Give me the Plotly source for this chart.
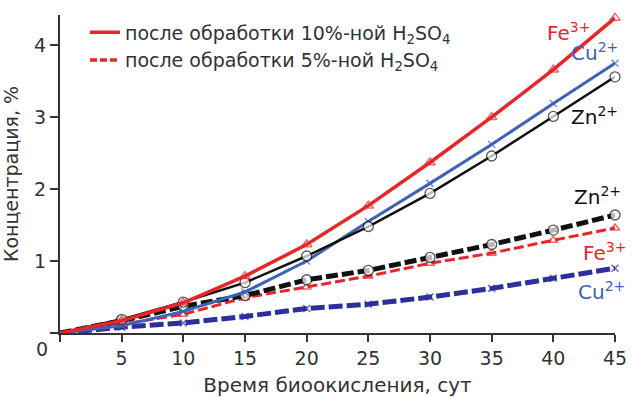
import plotly.graph_objects as go

days = [0, 5, 10, 15, 20, 25, 30, 35, 40, 45]

# Concentration, %, after treatment with 10% H2SO4
fe_10 = [0, 0.17, 0.42, 0.79, 1.23, 1.77, 2.37, 3.00, 3.66, 4.38]
cu_10 = [0, 0.10, 0.30, 0.57, 1.00, 1.55, 2.08, 2.62, 3.19, 3.75]
zn_10 = [0, 0.19, 0.43, 0.70, 1.07, 1.48, 1.94, 2.46, 3.01, 3.56]

# Concentration, %, after treatment with 5% H2SO4
zn_5 = [0, 0.17, 0.37, 0.52, 0.74, 0.87, 1.05, 1.23, 1.43, 1.64]
fe_5 = [0, 0.12, 0.26, 0.49, 0.64, 0.79, 0.97, 1.11, 1.29, 1.46]
cu_5 = [0, 0.08, 0.14, 0.23, 0.34, 0.40, 0.50, 0.62, 0.76, 0.90]

x_ticks = [0, 5, 10, 15, 20, 25, 30, 35, 40, 45]
x_tick_text = ["", "5", "10", "15", "20", "25", "30", "35", "40", "45"]
y_ticks = [0, 1, 2, 3, 4]
y_tick_text = ["", "1", "2", "3", "4"]

RED = "#e8262a"
BLUE = "#3d62b8"
NAVY = "#2c2f9c"
BLACK = "#111111"
AXIS = "#333333"

FONT = "DejaVu Sans, Liberation Sans, sans-serif"

fig = go.Figure()


def add_series(y, color, symbol, dash, width, size, fill=None, mline=1.5):
    sizes = [0] + [size] * (len(days) - 1)
    fig.add_trace(go.Scatter(
        x=days, y=y, mode="lines+markers", showlegend=False,
        line=dict(color=color, width=width, dash=dash),
        marker=dict(symbol=symbol, size=sizes,
                    color=fill if fill else color,
                    line=dict(color=color, width=mline)),
        cliponaxis=False,
    ))


# 5% series (drawn underneath)
add_series(cu_5, NAVY, "x-thin-open", "14px,4px", 5, 7)
add_series(fe_5, RED, "triangle-up-open", "10px,4px", 3, 8)
add_series(zn_5, BLACK, "circle", "12px,4px", 5, 10, fill="#ffffff", mline=1.3)

# 10% series
add_series(cu_10, BLUE, "x-thin-open", "solid", 3, 7)
add_series(zn_10, BLACK, "circle", "solid", 2.5, 10, fill="#ffffff", mline=1.3)
add_series(fe_10, RED, "triangle-up-open", "solid", 3.5, 9)

# legend entries
fig.add_trace(go.Scatter(
    x=[None], y=[None], mode="lines",
    line=dict(color=RED, width=3.5, dash="solid"),
    name="после обработки 10%-ной H<sub>2</sub>SO<sub>4</sub>",
))
fig.add_trace(go.Scatter(
    x=[None], y=[None], mode="lines",
    line=dict(color=RED, width=3.5, dash="7px,3px"),
    name="после обработки 5%-ной H<sub>2</sub>SO<sub>4</sub>",
))

# series labels: (x, y, horizontal pixel offset, text, colour)
labels = [
    (43.1, 4.18, 0, "Fe<sup>3+</sup>", RED),
    (45.0, 3.90, 5, "Cu<sup>2+</sup>", BLUE),
    (45.0, 3.01, 5, "Zn<sup>2+</sup>", BLACK),
    (45.0, 1.90, 8, "Zn<sup>2+</sup>", BLACK),
    (45.0, 1.13, 13, "Fe<sup>3+</sup>", RED),
    (45.0, 0.58, 12, "Cu<sup>2+</sup>", BLUE),
]
for lx, ly, dx, txt, col in labels:
    fig.add_annotation(x=lx, y=ly, text=txt, showarrow=False,
                       xanchor="right", yanchor="middle", xshift=dx,
                       font=dict(family=FONT, size=20, color=col))

# origin label
fig.add_annotation(x=0, y=0, text="0", showarrow=False,
                   xanchor="right", yanchor="top", xshift=-10, yshift=-3,
                   font=dict(family=FONT, size=19, color=AXIS))

fig.update_layout(
    width=632, height=397,
    margin=dict(l=60, r=17, t=15, b=64, autoexpand=False),
    paper_bgcolor="white", plot_bgcolor="white",
    font=dict(family=FONT, color=AXIS),
    legend=dict(x=0.045, y=1.005, xanchor="left", yanchor="top",
                bgcolor="rgba(0,0,0,0)", font=dict(size=19, family=FONT),
                itemwidth=30, tracegroupgap=4),
)

fig.update_xaxes(
    range=[0, 45], tickvals=x_ticks, ticktext=x_tick_text,
    showgrid=False, zeroline=False, automargin=False,
    showline=True, linecolor=AXIS, linewidth=2,
    ticks="outside", ticklen=7, tickwidth=2, tickcolor=AXIS,
    tickfont=dict(size=19, family=FONT, color=AXIS),
    title=dict(text="Время биоокисления, сут",
               font=dict(size=20, family=FONT, color=AXIS)),
)
fig.update_yaxes(
    range=[0, 4.42], tickvals=y_ticks, ticktext=y_tick_text,
    showgrid=False, zeroline=False, automargin=False,
    showline=True, linecolor=AXIS, linewidth=2,
    ticks="outside", ticklen=8, tickwidth=2, tickcolor=AXIS,
    tickfont=dict(size=19, family=FONT, color=AXIS),
    title=dict(text="Концентрация, %",
               font=dict(size=19, family=FONT, color=AXIS)),
)

fig.write_html("out.html")
